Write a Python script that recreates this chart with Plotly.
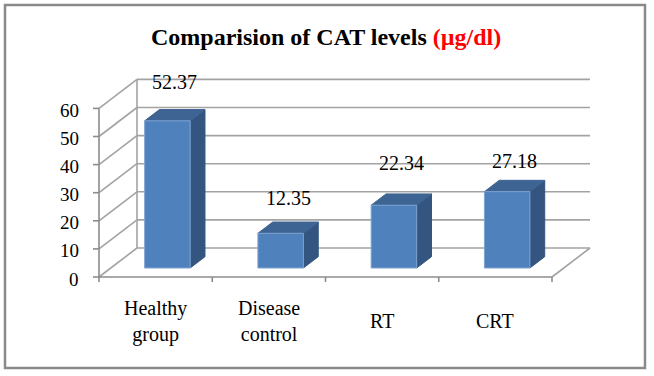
import plotly.graph_objects as go

categories = ["Healthy<br>group", "Disease<br>control", "RT", "CRT"]
values = [52.37, 12.35, 22.34, 27.18]
value_labels = ["52.37", "12.35", "22.34", "27.18"]
y_ticks = [0, 10, 20, 30, 40, 50, 60]

W, H = 654, 376
SERIF = "Liberation Serif, Times New Roman, DejaVu Serif, serif"
# pixel geometry helpers (scale definition, not data)
PX_PER_CAT = 113.25
PX_PER_UNIT = 2.81
x_left_px = 99
y_zero_px = 277
xmin = -0.5 - x_left_px / PX_PER_CAT
xmax = xmin + W / PX_PER_CAT
ymin = -(H - y_zero_px) / PX_PER_UNIT
ymax = y_zero_px / PX_PER_UNIT

DX = 38 / PX_PER_CAT      # full floor depth in category units
DY = 29 / PX_PER_UNIT     # full floor depth in value units
F0 = 0.31                 # depth fraction of bar front face
FD = 0.39                 # bar depth fraction
HALF_W = 22.75 / PX_PER_CAT

grid_col = "#a3a3a3"
fig = go.Figure()

def line(xs, ys, color=grid_col, width=1.6):
    fig.add_trace(go.Scatter(x=xs, y=ys, mode="lines", line=dict(color=color, width=width),
                             hoverinfo="skip", showlegend=False))

n = len(categories)
ymaxv = y_ticks[-1]
for v in y_ticks:
    line([-0.5 + DX, n - 0.5 + DX], [v + DY, v + DY])
    line([-0.5, -0.5 + DX], [v, v + DY])
line([-0.5 + DX, -0.5 + DX], [DY, ymaxv + DY])
line([-0.5, -0.5], [0, ymaxv], color="#8c8c8c", width=1.6)
line([-0.5, n - 0.5], [0, 0], color="#8c8c8c", width=1.6)
line([n - 0.5, n - 0.5 + DX], [0, DY])
for v in y_ticks:
    line([-0.5 - 6 / PX_PER_CAT, -0.5], [v, v], color="#8c8c8c", width=1.6)
for i in range(n + 1):
    line([i - 0.5, i - 0.5], [0, -5 / PX_PER_UNIT], color="#8c8c8c", width=1.6)

front_col = "#4f81bd"
side_col = "#34557f"
top_col = "#3e6493"

def face(xs, ys, color, lc):
    fig.add_trace(go.Scatter(x=xs, y=ys, mode="lines", fill="toself", fillcolor=color,
                             line=dict(color=lc, width=1), hoverinfo="skip", showlegend=False))

for i, v in enumerate(values):
    cx = i + F0 * DX
    by = F0 * DY
    x0, x1 = cx - HALF_W, cx + HALF_W
    ddx, ddy = FD * DX, FD * DY
    face([x1, x1 + ddx, x1 + ddx, x1, x1], [by, by + ddy, by + v + ddy, by + v, by], side_col, side_col)
    face([x0, x1, x1 + ddx, x0 + ddx, x0], [by + v, by + v, by + v + ddy, by + v + ddy, by + v], top_col, top_col)
    face([x0, x1, x1, x0, x0], [by, by, by + v, by + v, by], front_col, "#7ea3d2")

annotations = []
nudges = [3, -1, 6, -6]
for i, (v, t) in enumerate(zip(values, value_labels)):
    annotations.append(dict(x=i + (F0 + FD / 2) * DX, y=v + (F0 + FD) * DY, text=t, showarrow=False,
                            xanchor="center", yanchor="middle", yshift=25 + nudges[i],
                            font=dict(family=SERIF, size=20, color="black")))
for v in y_ticks:
    annotations.append(dict(x=-0.5, y=v, text=str(v), showarrow=False, xanchor="right", yanchor="middle",
                            xshift=-18, yshift=-2,
                            font=dict(family=SERIF, size=19, color="black")))
for i, c in enumerate(categories):
    annotations.append(dict(x=i, y=0, text=c, showarrow=False, xanchor="center", yanchor="middle",
                            yshift=-44, font=dict(family=SERIF, size=20, color="black")))
annotations.append(dict(xref="paper", yref="paper", x=326 / W, y=1 - 37 / H,
                        text="<b>Comparision of CAT levels <span style='color:#ff0000'>(µg/dl)</span></b>",
                        showarrow=False, xanchor="center", yanchor="middle",
                        font=dict(family=SERIF, size=24, color="black")))

fig.update_layout(
    width=W, height=H, autosize=False,
    font=dict(family=SERIF),
    margin=dict(l=0, r=0, t=0, b=0, pad=0),
    paper_bgcolor="white", plot_bgcolor="white",
    xaxis=dict(range=[xmin, xmax], visible=False, fixedrange=True),
    yaxis=dict(range=[ymin, ymax], visible=False, fixedrange=True),
    annotations=annotations,
    shapes=[dict(type="rect", xref="paper", yref="paper", x0=5 / W, x1=645 / W, y0=1 - 368 / H, y1=1 - 5 / H,
                 line=dict(color="#8a8a8a", width=2.5), fillcolor="rgba(0,0,0,0)")],
    showlegend=False,
)

fig.write_html("out.html", config={"displayModeBar": False},
               post_script="document.body.style.margin='0';document.body.style.overflow='hidden';")
